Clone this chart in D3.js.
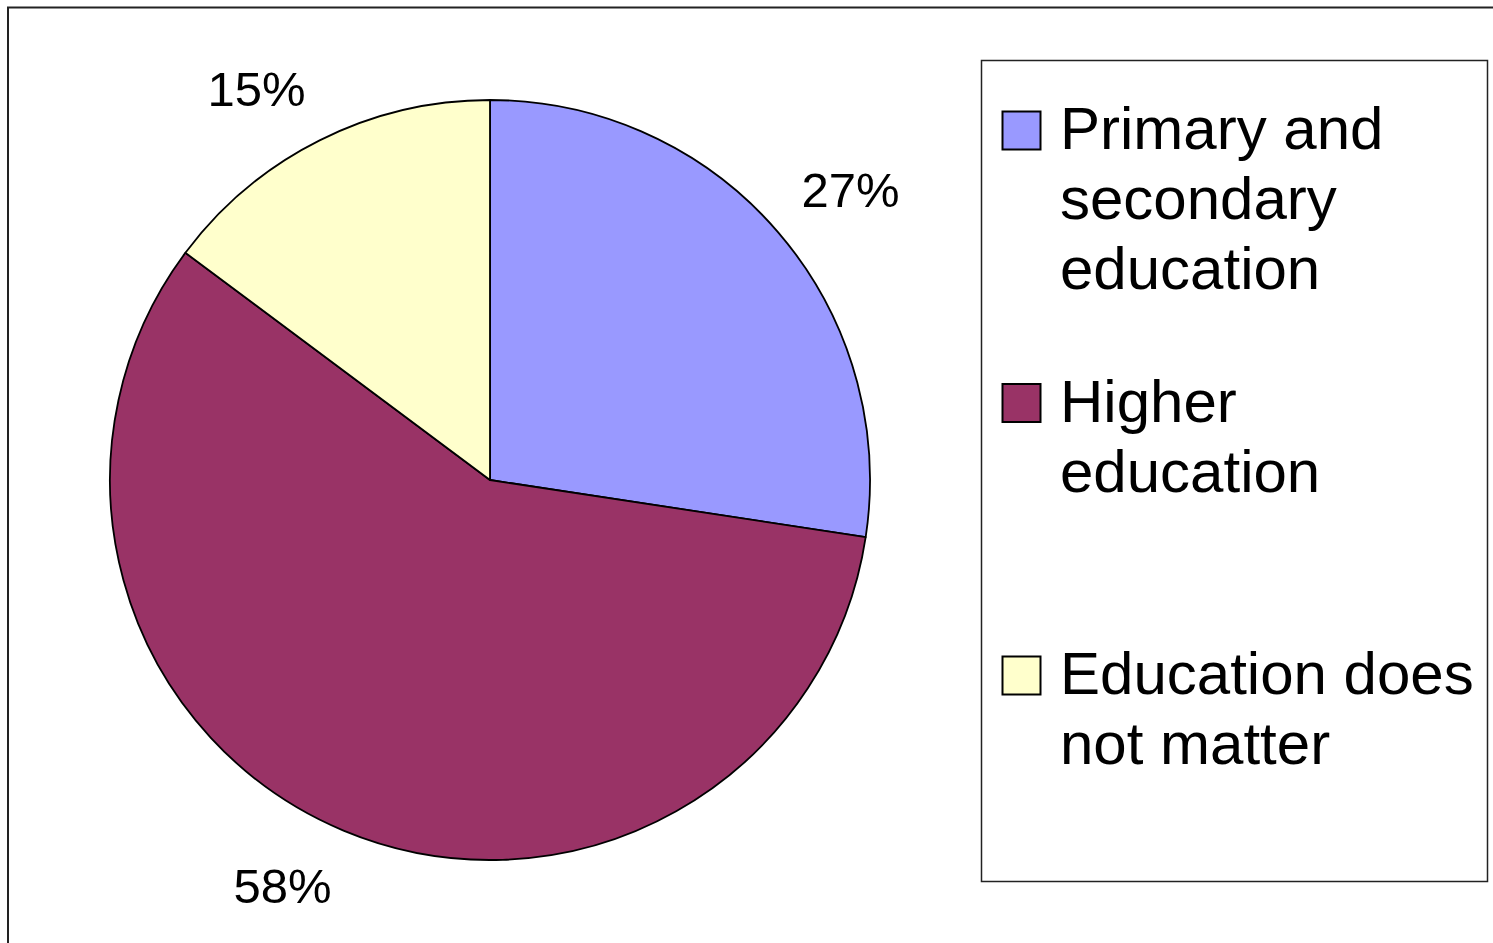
<!DOCTYPE html>
<html>
<head>
<meta charset="utf-8">
<title>Education pie</title>
<script src="https://d3js.org/d3.v7.min.js"></script>
<style>
  html, body { margin: 0; padding: 0; background: #fff; }
  svg text { font-family: Arial, 'Liberation Sans', sans-serif; fill: #000; }
</style>
</head>
<body>
<svg id="svg" width="1493" height="943"></svg>
<script>
// data (shares; labels show them rounded)
const categories = ["Primary and secondary education", "Higher education", "Education does not matter"];
const legendLines = [["Primary and", "secondary", "education"], ["Higher", "education"], ["Education does", "not matter"]];
const values = [27.4, 57.8, 14.8];
const colors = ["#9999FF", "#993366", "#FFFFCC"];

const svg = d3.select("#svg");

// outer chart frame (runs off the right/bottom edge)
svg.append("rect")
  .attr("x", 8).attr("y", 7.5)
  .attr("width", 1600).attr("height", 1000)
  .attr("fill", "#fff")
  .attr("stroke", "#222")
  .attr("stroke-width", 2);

// pie
const cx = 490, cy = 480, r = 380;
const g = svg.append("g").attr("transform", `translate(${cx},${cy})`);

const pie = d3.pie().sort(null).value(d => d)(values);
const arc = d3.arc().innerRadius(0).outerRadius(r);

g.selectAll("path.slice")
  .data(pie)
  .join("path")
  .attr("class", "slice")
  .attr("d", arc)
  .attr("fill", (d, i) => colors[i])
  .attr("stroke", "#000")
  .attr("stroke-width", 1.8)
  .attr("stroke-linejoin", "round");

// percent labels - corner of the label sits on a point just outside the slice midpoint
const total = d3.sum(values);
const labelR = r + 36;
const fs = 49;
pie.forEach((d, i) => {
  const a = (d.startAngle + d.endAngle) / 2;
  const px = Math.sin(a) * labelR, py = -Math.cos(a) * labelR;
  const right = Math.sin(a) >= 0;
  const upper = Math.cos(a) >= 0;
  g.append("text")
    .attr("x", px + (right ? -4 : 2))
    .attr("y", upper ? py - 2 : py + fs * 0.72 + 4)
    .attr("text-anchor", right ? "start" : "end")
    .attr("font-size", fs)
    .text(Math.round(values[i] / total * 100) + "%");
});

// legend
const lx = 981, ly = 60, lw = 506, lh = 821;
svg.append("rect")
  .attr("x", lx + 0.5).attr("y", ly + 0.5)
  .attr("width", lw).attr("height", lh)
  .attr("fill", "#fff")
  .attr("stroke", "#222")
  .attr("stroke-width", 1.5);

const groupY = d3.scalePoint().domain(categories).range([111, 656]);
const lineH = 70, sq = 38;

categories.forEach((c, i) => {
  const y0 = groupY(c);
  svg.append("rect")
    .attr("x", 1002.5).attr("y", y0 + 0.5)
    .attr("width", sq).attr("height", sq)
    .attr("fill", colors[i])
    .attr("stroke", "#000")
    .attr("stroke-width", 2);
  const t = svg.append("text")
    .attr("x", 1060)
    .attr("y", y0 + sq)
    .attr("font-size", 60);
  legendLines[i].forEach((ln, j) => {
    t.append("tspan")
      .attr("x", 1060)
      .attr("y", y0 + sq + j * lineH)
      .text(ln);
  });
});
</script>
</body>
</html>
